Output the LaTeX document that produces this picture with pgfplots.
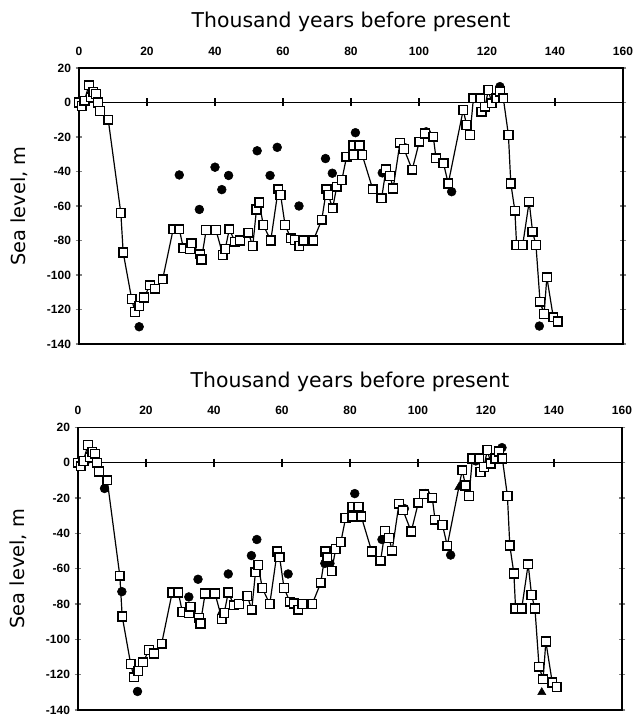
\documentclass[border=0pt]{standalone}
\usepackage{fontspec}
\setmainfont{Liberation Sans}
\newfontfamily\titlefont{DejaVu Sans}
\usepackage{pgfplots}
\usepackage{pgfplotstable}
\pgfplotsset{compat=1.18}

% sea-level curve (open squares), same in both panels
\pgfplotstableread{
x y
0 0
0.8 -2
1.6 1
2.9 10
3.5 3
4.2 6
5.0 5
5.6 0
6.2 -5
8.6 -10
12.3 -64
13.0 -87
15.5 -114
16.5 -121.5
17.7 -118
19.1 -113
20.9 -106
22.4 -108
24.6 -102.5
27.7 -73.5
29.5 -73.5
30.7 -84.5
32.6 -85
33.1 -81.6
35.6 -88
36.0 -91
37.4 -74
40.3 -74
42.3 -88.4
43.0 -85
44.2 -73.5
45.9 -80.7
47.4 -80
49.8 -75.5
51.1 -83.2
52.2 -62
53.0 -58
54.2 -71
56.4 -80
58.6 -50.3
59.3 -53.6
60.6 -71
62.3 -78.7
63.5 -79.7
64.8 -83.2
66.0 -80
68.9 -80
71.4 -68
72.8 -50.3
73.3 -53.6
74.6 -61.3
75.8 -48.8
77.3 -45
78.7 -31.4
80.7 -25
80.7 -30.4
82.5 -25
83.3 -30.4
86.4 -50.3
89.0 -55.5
90.3 -38.7
91.5 -42.6
92.4 -49.8
94.4 -23.3
95.6 -27
98.0 -39
100.1 -22.7
101.8 -17.9
104.2 -19.8
105.0 -32.3
107.2 -35.2
108.6 -47
113.0 -4.3
114.0 -13
115.0 -18.8
116.0 2.4
118.0 2.4
118.4 -5.3
119.4 -2.4
120.4 7.2
121.4 -0.5
122.8 2.4
123.8 6.3
124.8 2.4
126.3 -18.8
127.0 -46.9
128.2 -62.7
128.7 -82.6
130.5 -82.6
132.4 -57.5
133.4 -74.9
134.4 -82.6
135.6 -115.5
136.8 -122.6
137.6 -101.3
139.5 -124.5
140.8 -127
}\squares

% filled circles, upper panel
\pgfplotstableread{
x y
0 0
3.7 2.5
17.7 -130
29.5 -42
35.4 -62
40.0 -37.5
42.0 -50.5
44.0 -42.3
52.4 -28
56.2 -42.3
58.3 -26
64.7 -60
72.5 -32.5
74.5 -41
81.3 -17.5
89.2 -40.8
95.6 -26
102.1 -17
109.6 -51.7
123.8 9.2
135.4 -129.6
}\topdots

% filled circles, lower panel
\pgfplotstableread{
x y
0 0
3.0 2
7.8 -14.6
12.9 -73
17.5 -129.5
32.6 -76
35.3 -66
42.3 -86.2
44.2 -63
51.0 -52.6
52.6 -43.5
61.8 -63
72.6 -57
74.1 -57
81.4 -17.5
89.4 -43.5
96.0 -26
102.2 -17.5
109.6 -52.3
117.0 1
124.7 8.5
}\botdots

% filled triangles, lower panel
\pgfplotstableread{
x y
112.0 -14
136.4 -130
}\bottri

\pgfplotsset{
  panel/.style={
    scale only axis, width=408pt,
    xmin=0, xmax=160, ymin=-140, ymax=20,
    xtick={0,20,...,160}, ytick={-140,-120,...,20},
    xticklabel pos=right,
    xtick style={draw=none},
    xticklabel style={yshift=6pt},
    ytick align=center, major tick length=5pt,
    ytick style={line width=0.8pt},
    tick label style={font=\fontsize{9}{10}\selectfont\bfseries},
    /pgf/number format/assume math mode=true,
    axis line style={line width=1pt},
    ylabel style={font=\titlefont\fontsize{14.5}{17}\selectfont, at={(axis description cs:-0.11,0.5)}, anchor=center},
    ylabel={Sea level, m},
    extra description/.code={
      \node[font=\titlefont\fontsize{15.3}{18}\selectfont, anchor=base]
        at ([yshift=30pt]axis description cs:0.5,1) {Thousand years before present};
    },
  },
  zeroline/.style={black, line width=0.8pt, mark=|, mark size=3pt, mark options={line width=0.8pt}},
  sqline/.style={black, line width=0.9pt, mark=square*, mark size=3.3pt, mark options={fill=white, line width=1.1pt}},
  dots/.style={only marks, mark=*, mark size=3.3pt, black},
}

\begin{document}
\begin{tikzpicture}
\useasboundingbox (0,0) rectangle (477pt,538.5pt);
\begin{axis}[panel, at={(59.25pt,280.5pt)}, anchor=south west, height=207pt]
\addplot[zeroline] coordinates {(0,0) (20,0) (40,0) (60,0) (80,0) (100,0) (120,0) (140,0) (160,0)};
\addplot[dots] table {\topdots};
\addplot[sqline] table {\squares};
\end{axis}
\begin{axis}[panel, at={(58.5pt,6pt)}, anchor=south west, height=212pt]
\addplot[zeroline] coordinates {(0,0) (20,0) (40,0) (60,0) (80,0) (100,0) (120,0) (140,0) (160,0)};
\addplot[dots] table {\botdots};
\addplot[only marks, mark=triangle*, mark size=3.5pt, black] table {\bottri};
\addplot[sqline] table {\squares};
\end{axis}
\end{tikzpicture}
\end{document}
